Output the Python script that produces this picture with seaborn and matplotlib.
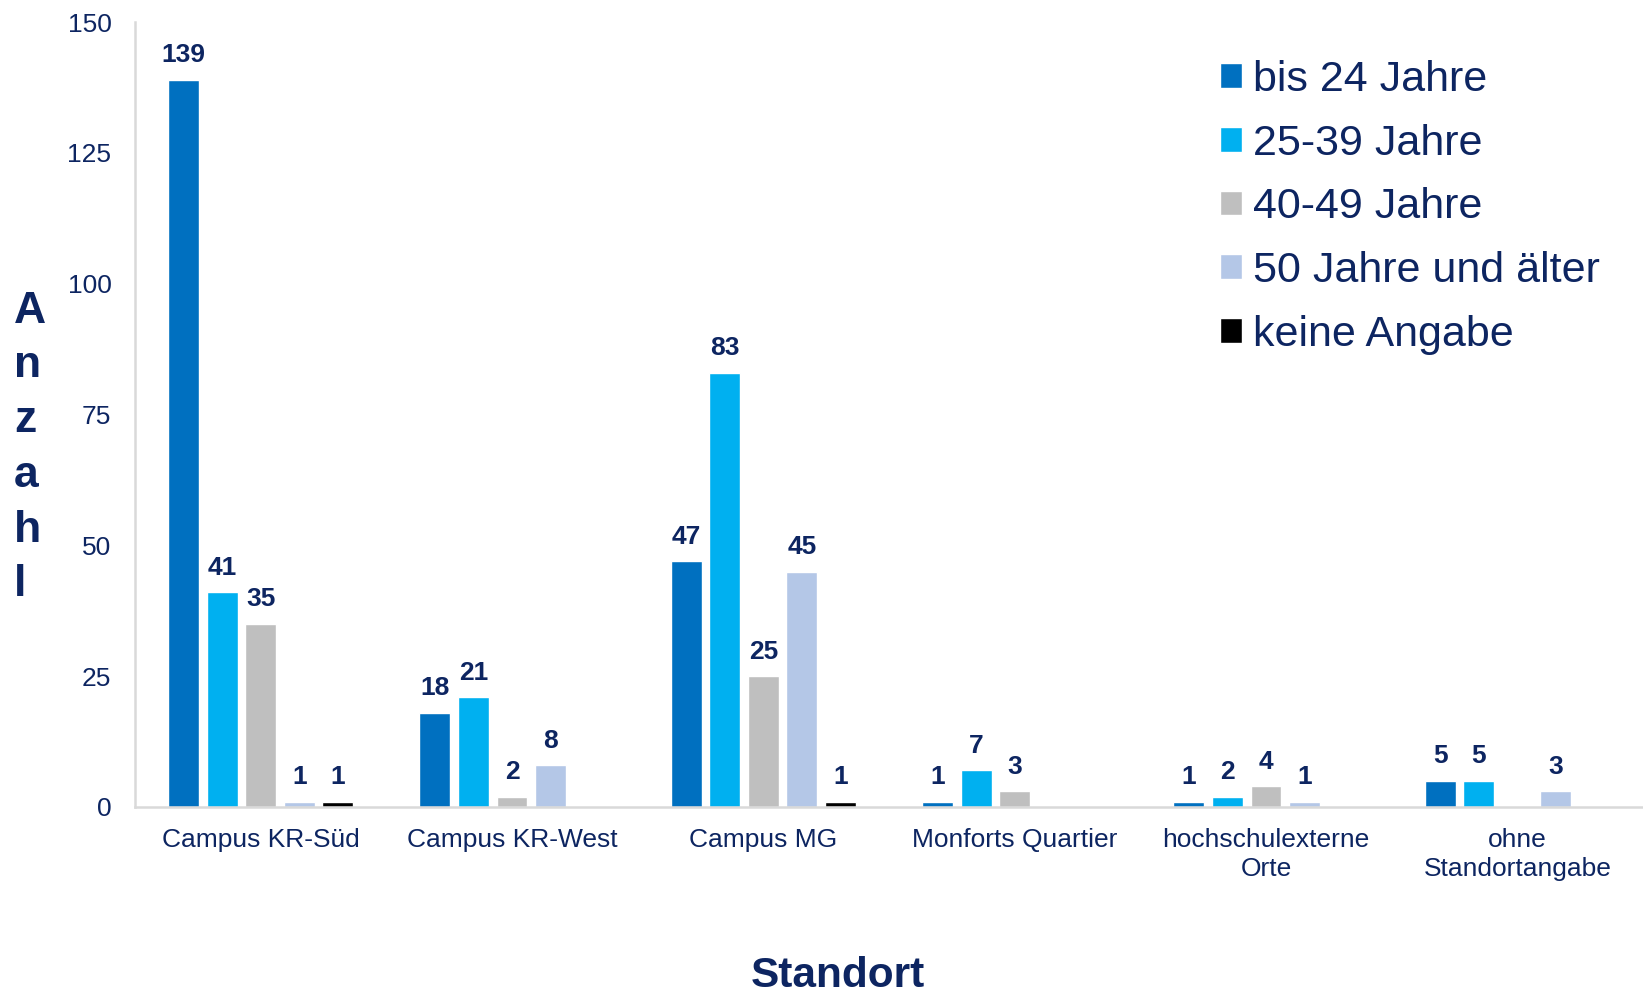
import numpy as np
import pandas as pd
import seaborn as sns
import matplotlib.pyplot as plt

standorte = ['Campus KR-Süd', 'Campus KR-West', 'Campus MG', 'Monforts Quartier',
             'hochschulexterne\nOrte', 'ohne\nStandortangabe']
gruppen = ['bis 24 Jahre', '25-39 Jahre', '40-49 Jahre', '50 Jahre und älter', 'keine Angabe']
bis_24 = [139, 18, 47, 1, 1, 5]
j25_39 = [41, 21, 83, 7, 2, 5]
j40_49 = [35, 2, 25, 3, 4, np.nan]
ab_50 = [1, 8, 45, np.nan, 1, 3]
keine_angabe = [1, np.nan, 1, np.nan, np.nan, np.nan]
farben = ['#0070C0', '#00B0F0', '#BFBFBF', '#B4C7E7', '#000000']

navy = '#0d2561'

rows = []
for g, vals in zip(gruppen, [bis_24, j25_39, j40_49, ab_50, keine_angabe]):
    for s, v in zip(standorte, vals):
        rows.append({'Standort': s, 'Gruppe': g, 'Anzahl': v})
df = pd.DataFrame(rows).dropna()

sns.set_style('white')
plt.rcParams['font.family'] = ['Liberation Sans', 'DejaVu Sans']

fig = plt.figure(figsize=(16.43, 9.93), dpi=100)
ax = fig.add_axes([135 / 1643, 1 - 807 / 993, 1 - 135 / 1643, (807 - 22) / 993])

sns.barplot(data=df, x='Standort', y='Anzahl', hue='Gruppe', order=standorte,
            hue_order=gruppen, palette=farben, width=0.768, gap=0.2,
            saturation=1, errorbar=None, ax=ax)

for cont in ax.containers:
    ax.bar_label(cont, fmt='%d', padding=9, fontsize=19, fontweight='bold', color=navy)

ax.set_ylim(0, 150)
ax.set_xlim(-0.5, 5.5)
ax.set_yticks([0, 25, 50, 75, 100, 125, 150])
ax.tick_params(axis='y', labelsize=19, labelcolor=navy, length=0, pad=17)
ax.tick_params(axis='x', labelsize=19, labelcolor=navy, length=0, pad=15)
for lab in ax.get_xticklabels():
    lab.set_linespacing(1.25)
ax.set_xlabel('')
ax.set_ylabel('')
sns.despine(ax=ax)
for sp in ['left', 'bottom']:
    ax.spines[sp].set_color('#D9D9D9')
    ax.spines[sp].set_linewidth(1.8)

ax.legend(loc='upper left', bbox_to_anchor=(1220 / 1643, 1 - 60 / 993),
          bbox_transform=fig.transFigure, frameon=False, fontsize=31,
          labelcolor=navy, handlelength=0.51, handleheight=0.51,
          handletextpad=0.25, labelspacing=0.55, borderpad=0, borderaxespad=0)

fig.text(14 / 1643, 1 - 448 / 993, 'A\nn\nz\na\nh\nl', ha='left', va='center',
         fontsize=32, fontweight='bold', color=navy, linespacing=1.43)
fig.text(838 / 1643, 1 - 976 / 993, 'Standort', ha='center', va='center',
         fontsize=30.5, fontweight='bold', color=navy)

fig.savefig('out.png', dpi=100)
